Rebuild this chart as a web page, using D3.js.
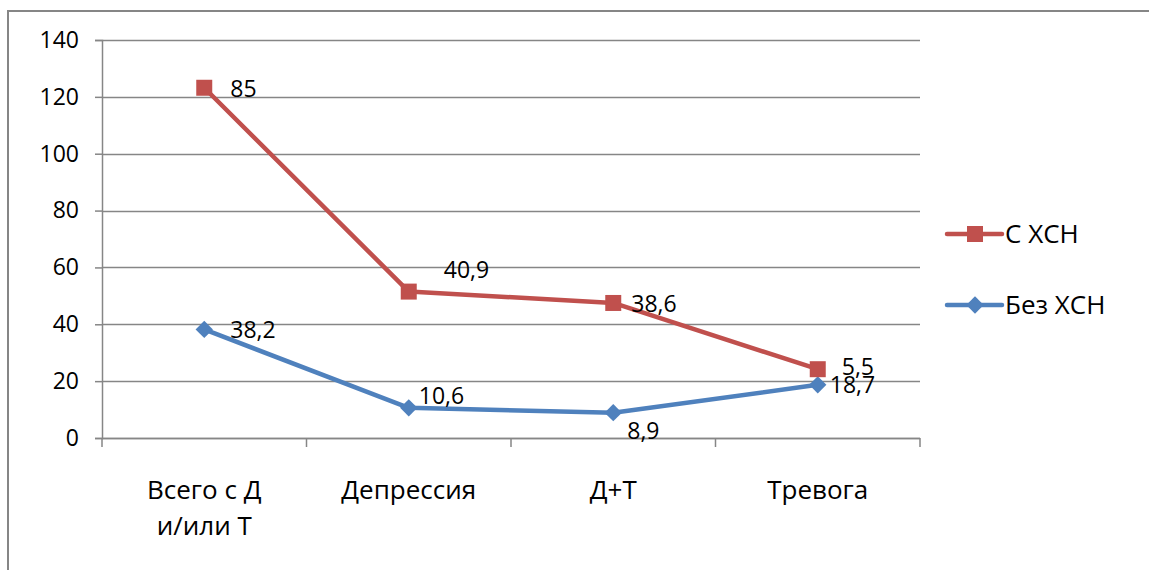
<!DOCTYPE html>
<html>
<head>
<meta charset="utf-8">
<script src="https://cdn.jsdelivr.net/npm/d3@7"></script>
<style>
  html, body { margin: 0; padding: 0; background: #fff; }
  svg { display: block; font-family: "Open Sans", "Noto Sans", sans-serif; }
</style>
</head>
<body>
<svg id="chart" width="1149" height="570"></svg>
<script>
// Categories and the two stacked series
const categories = [["Всего с Д", "и/или Т"], ["Депрессия"], ["Д+Т"], ["Тревога"]];
const seriesNames = ["Без ХСН", "С ХСН"];
const withoutCHF = [38.2, 10.6, 8.9, 18.7];   // Без ХСН
const withCHF = [85, 40.9, 38.6, 5.5];        // С ХСН
const yTicks = [0, 20, 40, 60, 80, 100, 120, 140];

const colors = { "Без ХСН": "#4F81BD", "С ХСН": "#C0504D" };
const gridColor = "#868686";
const numSize = 23;   // numbers: ticks and value labels
const textSize = 26;  // category names and legend

const svg = d3.select("#chart");
const W = 1149, H = 570;

// outer chart frame
svg.append("rect")
  .attr("x", 8).attr("y", 11)
  .attr("width", W + 20).attr("height", H + 20)
  .attr("fill", "none").attr("stroke", gridColor).attr("stroke-width", 2);

const plot = { left: 102, right: 920, top: 40, bottom: 438 };

const x = d3.scaleBand()
  .domain(d3.range(categories.length))
  .range([plot.left, plot.right]);
const y = d3.scaleLinear().domain([0, 140]).range([plot.bottom, plot.top]);

// stacked layout (line chart, stacked)
const table = categories.map((c, i) => ({ "Без ХСН": withoutCHF[i], "С ХСН": withCHF[i] }));
const stacked = d3.stack().keys(seriesNames)(table);

// horizontal gridlines
svg.append("g").selectAll("line").data(yTicks).join("line")
  .attr("x1", plot.left).attr("x2", plot.right)
  .attr("y1", d => Math.round(y(d)) + 0.5).attr("y2", d => Math.round(y(d)) + 0.5)
  .attr("stroke", gridColor).attr("stroke-width", 1.5);

// y axis
const yAxis = svg.append("g")
  .attr("transform", `translate(${plot.left},0)`)
  .call(d3.axisLeft(y).tickValues(yTicks).tickSize(7).tickPadding(16));
yAxis.select(".domain").attr("stroke", gridColor).attr("stroke-width", 1.5);
yAxis.selectAll(".tick line").attr("stroke", gridColor).attr("stroke-width", 1.5);
yAxis.selectAll(".tick text")
  .attr("font-size", numSize).attr("fill", "#000")
  .attr("font-family", "'Open Sans', sans-serif");

// x axis with category-boundary ticks
const xg = svg.append("g");
xg.append("line")
  .attr("x1", plot.left).attr("x2", plot.right)
  .attr("y1", plot.bottom + 0.5).attr("y2", plot.bottom + 0.5)
  .attr("stroke", gridColor).attr("stroke-width", 1.5);
const bounds = d3.range(categories.length + 1).map(i => i < categories.length ? x(i) : x(i - 1) + x.bandwidth());
xg.selectAll("line.tick").data(bounds).join("line").attr("class", "tick")
  .attr("x1", d => d).attr("x2", d => d)
  .attr("y1", plot.bottom).attr("y2", plot.bottom + 9)
  .attr("stroke", gridColor).attr("stroke-width", 1.5);

const cx = i => x(i) + x.bandwidth() / 2;

xg.selectAll("text.cat").data(categories).join("text").attr("class", "cat")
  .attr("text-anchor", "middle").attr("font-size", textSize).attr("fill", "#000")
  .each(function (lines, i) {
    d3.select(this).selectAll("tspan").data(lines).join("tspan")
      .attr("x", cx(i))
      .attr("y", (d, k) => 499 + k * 36)
      .text(d => d);
  });

// lines
const line = d3.line().x((d, i) => cx(i)).y(d => y(d[1]));
const layers = svg.append("g");
stacked.forEach(s => {
  layers.append("path")
    .datum(s)
    .attr("d", line)
    .attr("fill", "none")
    .attr("stroke", colors[s.key])
    .attr("stroke-width", 4.5)
    .attr("stroke-linejoin", "round");
});

// markers
const square = d3.symbol().type(d3.symbolSquare).size(256);
const diamond = d3.symbol().type(d3.symbolSquare).size(150);
stacked.forEach(s => {
  const g = svg.append("g");
  g.selectAll("path").data(s).join("path")
    .attr("d", s.key === "С ХСН" ? square() : diamond())
    .attr("transform", (d, i) => `translate(${cx(i)},${y(d[1])})` + (s.key === "С ХСН" ? "" : " rotate(45)"))
    .attr("fill", colors[s.key]);
});

// value labels (offsets relative to the point)
const fmt = v => String(v).replace(".", ",");
const labelOffsets = {
  "Без ХСН": [[26, 9], [10, -4], [14, 26], [12, 8]],
  "С ХСН": [[26, 9], [35, -14], [18, 9], [24, 6]]
};
const labels = svg.append("g").attr("font-size", numSize).attr("fill", "#000");
stacked.forEach(s => {
  labels.selectAll(null).data(s).join("text")
    .attr("x", (d, i) => cx(i) + labelOffsets[s.key][i][0])
    .attr("y", (d, i) => y(d[1]) + labelOffsets[s.key][i][1])
    .text(d => fmt(d.data[s.key]));
});

// legend
const legendItems = [["С ХСН", 234], ["Без ХСН", 305]];
const lg = svg.append("g");
legendItems.forEach(([name, ly]) => {
  lg.append("line").attr("x1", 947).attr("x2", 1002).attr("y1", ly).attr("y2", ly)
    .attr("stroke", colors[name]).attr("stroke-width", 4.5).attr("stroke-linecap", "round");
  lg.append("path")
    .attr("d", name === "С ХСН" ? square() : diamond())
    .attr("transform", `translate(975,${ly})` + (name === "С ХСН" ? "" : " rotate(45)"))
    .attr("fill", colors[name]);
  lg.append("text").attr("x", 1005).attr("y", ly + 9)
    .attr("font-size", textSize).attr("fill", "#000").text(name);
});
</script>
</body>
</html>
